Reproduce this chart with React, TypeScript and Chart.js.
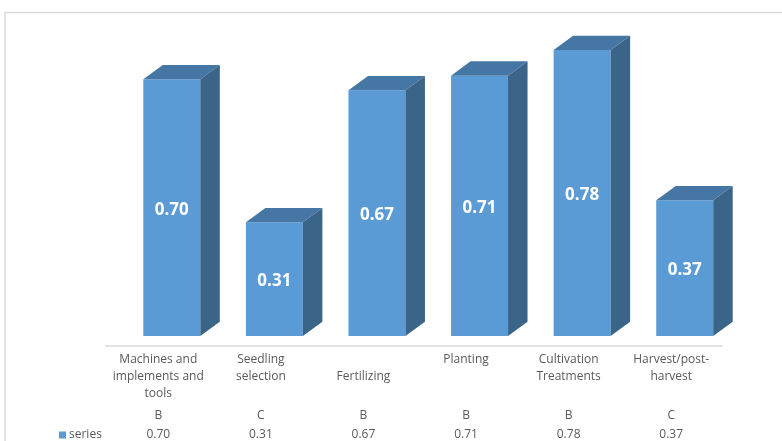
import React, { useEffect, useRef } from "react";
import { Chart, registerables } from "chart.js";

Chart.register(...registerables);

const categories: string[][] = [
  ["Machines and", "implements and", "tools"],
  ["Seedling", "selection"],
  ["", "Fertilizing"],
  ["Planting"],
  ["Cultivation", "Treatments"],
  ["Harvest/post-", "harvest"],
];
const grades: string[] = ["B", "C", "B", "B", "B", "C"];
const seriesValues: number[] = [0.7, 0.31, 0.67, 0.71, 0.78, 0.37];
const seriesName = "series";

const FRONT = "#5B9BD5";
const TOP = "#4677A4";
const SIDE = "#3A6488";
const TEXT = "#595959";
const DX = 19.5;
const DY = 14.3;
const LABEL_SHIFT = 13.5;

const threeDPlugin = {
  id: "threeD",
  beforeDraw(chart: any) {
    const ctx = chart.ctx;
    ctx.save();
    ctx.strokeStyle = "#d9d9d9";
    ctx.lineWidth = 1.5;
    ctx.beginPath();
    ctx.moveTo(5, 900);
    ctx.lineTo(5, 12.5);
    ctx.lineTo(900, 12.5);
    ctx.stroke();
    ctx.restore();
  },
  afterDatasetsDraw(chart: any) {
    const ctx = chart.ctx;
    const meta = chart.getDatasetMeta(0);
    ctx.save();
    meta.data.forEach((bar: any, i: number) => {
      const { x, y, base, width } = bar.getProps(["x", "y", "base", "width"], true);
      const l = x - width / 2;
      const r = x + width / 2;
      // top face
      ctx.fillStyle = TOP;
      ctx.beginPath();
      ctx.moveTo(l, y);
      ctx.lineTo(l + DX, y - DY);
      ctx.lineTo(r + DX, y - DY);
      ctx.lineTo(r, y);
      ctx.closePath();
      ctx.fill();
      // side face
      ctx.fillStyle = SIDE;
      ctx.beginPath();
      ctx.moveTo(r, y);
      ctx.lineTo(r + DX, y - DY);
      ctx.lineTo(r + DX, base - DY);
      ctx.lineTo(r, base);
      ctx.closePath();
      ctx.fill();
      // value label
      ctx.fillStyle = "#ffffff";
      ctx.font = "bold 17px 'Open Sans'";
      ctx.textAlign = "center";
      ctx.textBaseline = "middle";
      ctx.fillText(seriesValues[i].toFixed(2), x, (y + base) / 2 + 2);
    });
    ctx.restore();
  },
  afterDraw(chart: any) {
    const ctx = chart.ctx;
    const xs = chart.scales.x;
    const area = chart.chartArea;
    ctx.save();
    // floor line
    ctx.strokeStyle = "#d9d9d9";
    ctx.lineWidth = 1.5;
    ctx.beginPath();
    ctx.moveTo(area.left - LABEL_SHIFT - 2, area.bottom + 10);
    ctx.lineTo(area.right - LABEL_SHIFT, area.bottom + 10);
    ctx.stroke();

    ctx.fillStyle = TEXT;
    ctx.font = "12px 'Open Sans'";
    ctx.textAlign = "center";
    ctx.textBaseline = "middle";
    categories.forEach((lines, i) => {
      const cx = xs.getPixelForValue(i) - LABEL_SHIFT;
      lines.forEach((t, k) => {
        ctx.fillText(t, cx, area.bottom + 24 + k * 17);
      });
      ctx.fillText(grades[i], cx, area.bottom + 80);
      ctx.fillText(seriesValues[i].toFixed(2), cx, area.bottom + 99);
    });
    // legend key
    ctx.fillStyle = FRONT;
    ctx.fillRect(59, area.bottom + 95.5, 7, 7);
    ctx.fillStyle = TEXT;
    ctx.textAlign = "left";
    ctx.fillText(seriesName, 69, area.bottom + 99);
    ctx.restore();
  },
};

export default function App() {
  const ref = useRef<HTMLCanvasElement>(null);
  useEffect(() => {
    if (!ref.current) return;
    const chart = new Chart(ref.current, {
      type: "bar",
      data: {
        labels: categories.map((c) => c.filter((s) => s).join(" ")),
        datasets: [
          {
            label: seriesName,
            data: seriesValues,
            backgroundColor: FRONT,
            borderWidth: 0,
            barPercentage: 0.5556,
            categoryPercentage: 1,
          },
        ],
      },
      options: {
        responsive: false,
        animation: false,
        layout: { padding: { left: 120.5, right: 46, top: 6, bottom: 105 } },
        plugins: { legend: { display: false }, tooltip: { enabled: false } },
        scales: {
          x: { display: false },
          y: { display: false, min: 0, max: 0.9 },
        },
      },
      plugins: [threeDPlugin],
    });
    return () => chart.destroy();
  }, []);
  return (
    <div style={{ position: "fixed", left: 0, top: 0, width: 782, height: 441, background: "#fff" }}>
      <canvas ref={ref} width={782} height={441} style={{ display: "block" }} />
    </div>
  );
}
